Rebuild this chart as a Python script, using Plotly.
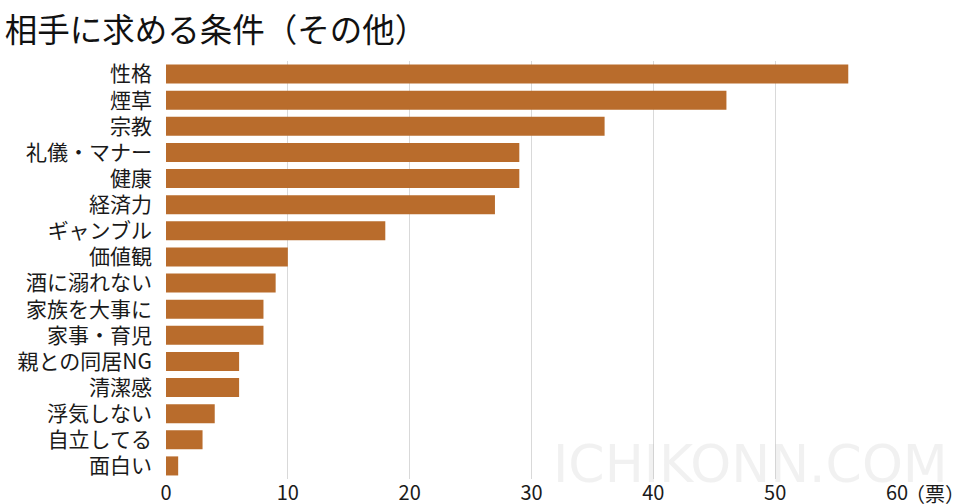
import plotly.graph_objects as go

categories = ["性格", "煙草", "宗教", "礼儀・マナー", "健康", "経済力", "ギャンブル", "価値観",
              "酒に溺れない", "家族を大事に", "家事・育児", "親との同居NG", "清潔感", "浮気しない",
              "自立してる", "面白い"]
votes = [56, 46, 36, 29, 29, 27, 18, 10, 9, 8, 8, 6, 6, 4, 3, 1]
x_ticks = [0, 10, 20, 30, 40, 50, 60]
title_text = "相手に求める条件（その他）"
unit_text = "（票）"
watermark = "ICHIKONN.COM"

FONT = "Noto Sans CJK JP"

fig = go.Figure(go.Bar(
    x=votes[::-1], y=categories[::-1], orientation="h",
    marker=dict(color="#B96C2C", line=dict(width=0)),
))

fig.update_layout(
    width=960, height=504,
    margin=dict(l=166, r=63, t=61, b=25, autoexpand=False),
    paper_bgcolor="white", plot_bgcolor="white",
    bargap=0.27,
    showlegend=False,
    font=dict(family=FONT, color="#1a1a1a"),
    title=dict(text=title_text, x=0.005, xanchor="left", y=0.94, yanchor="middle",
               font=dict(family=FONT, size=32.5, color="#111111")),
    xaxis=dict(range=[0, 60], tickvals=x_ticks, showgrid=True, gridcolor="#d9d9d9",
               gridwidth=1, zeroline=False, showline=False, automargin=False,
               tickfont=dict(family=FONT, size=20, color="#1a1a1a")),
    yaxis=dict(showgrid=False, zeroline=False, showline=False, ticklabelstandoff=13,
               automargin=False,
               tickfont=dict(family=FONT, size=21, color="#1a1a1a")),
)

fig.add_annotation(text=watermark, xref="paper", yref="paper", x=0.80, y=0.035,
                   xanchor="center", yanchor="middle", showarrow=False,
                   font=dict(family="DejaVu Sans", size=52, color="rgba(190,190,190,0.22)"))
fig.add_annotation(text=unit_text, xref="paper", yref="paper", x=1.0, y=0, xshift=6,
                   yshift=-14, xanchor="left", yanchor="middle", showarrow=False,
                   font=dict(family=FONT, size=20, color="#1a1a1a"))

fig.write_html("out.html", config={"displayModeBar": False},
               post_script="document.body.style.margin='0';document.body.style.overflow='hidden';")
